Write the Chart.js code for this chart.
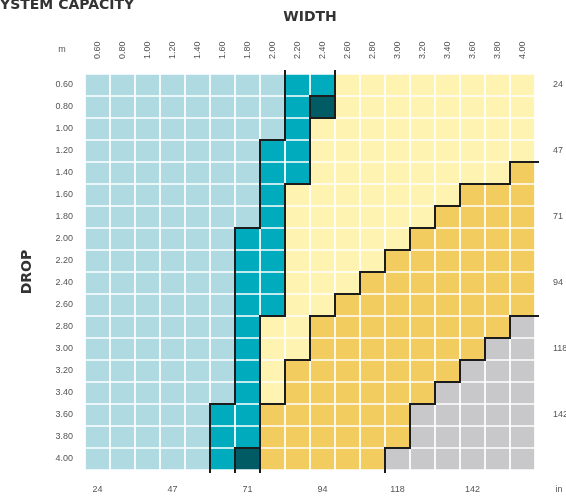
<!DOCTYPE html>
<html>
<head>
<meta charset="utf-8">
<title>System capacity</title>
<script src="https://cdn.jsdelivr.net/npm/chart.js@4.4.1/dist/chart.umd.min.js"></script>
<style>
  html, body { margin: 0; padding: 0; background: #fff; }
  canvas { display: block; }
</style>
</head>
<body>
<canvas id="capacity" width="566" height="496"></canvas>
<script>
// widths along the top, drops down the side (metres)
const widths = ['0.60', '0.80', '1.00', '1.20', '1.40', '1.60', '1.80', '2.00', '2.20',
  '2.40', '2.60', '2.80', '3.00', '3.20', '3.40', '3.60', '3.80', '4.00'];
const drops = ['0.60', '0.80', '1.00', '1.20', '1.40', '1.60', '1.80', '2.00', '2.20',
  '2.40', '2.60', '2.80', '3.00', '3.20', '3.40', '3.60', '3.80', '4.00'];

// inch equivalents, only every third one is printed
const widthInches = ['24', '', '', '47', '', '', '71', '', '', '94', '', '', '118', '', '', '142', '', ''];
const dropInches = ['24', '', '', '47', '', '', '71', '', '', '94', '', '', '118', '', '', '142', '', ''];

// one string per drop, one letter per width
// L light blue, T teal, D dark teal, Y light yellow, O yellow, G grey
const zones = [
  'LLLLLLLLTTYYYYYYYY',
  'LLLLLLLLTDYYYYYYYY',
  'LLLLLLLLTYYYYYYYYY',
  'LLLLLLLTTYYYYYYYYY',
  'LLLLLLLTTYYYYYYYYO',
  'LLLLLLLTYYYYYYYOOO',
  'LLLLLLLTYYYYYYOOOO',
  'LLLLLLTTYYYYYOOOOO',
  'LLLLLLTTYYYYOOOOOO',
  'LLLLLLTTYYYOOOOOOO',
  'LLLLLLTTYYOOOOOOOO',
  'LLLLLLTYYOOOOOOOOG',
  'LLLLLLTYYOOOOOOOGG',
  'LLLLLLTYOOOOOOOGGG',
  'LLLLLLTYOOOOOOGGGG',
  'LLLLLTTOOOOOOGGGGG',
  'LLLLLTTOOOOOOGGGGG',
  'LLLLLTDOOOOOGGGGGG'
];

const zoneColors = {
  L: '#afdae2',
  T: '#00abbd',
  D: '#005b65',
  Y: '#fef3b0',
  O: '#f2cc5f',
  G: '#c8c8ca'
};

const tickFont = { family: "'Liberation Sans', Arial, sans-serif", size: 9 };
const titleFont = { family: "'DejaVu Sans', sans-serif", size: 14, weight: 'bold' };
const tickColor = '#555';
const titleColor = '#333';
const noGrid = { display: false, drawTicks: false };

// black outline wherever two neighbouring cells are in different zones
const zoneLines = {
  id: 'zoneLines',
  afterDatasetsDraw(chart) {
    const xs = chart.scales.x, ys = chart.scales.y;
    const ctx = chart.ctx;
    const last = zones.length - 1;
    ctx.save();
    ctx.strokeStyle = '#1c1c1c';
    ctx.lineWidth = 2;
    ctx.lineCap = 'square';
    ctx.beginPath();
    zones.forEach((row, r) => {
      for (let c = 0; c < row.length; c++) {
        if (c < row.length - 1 && row[c] !== row[c + 1]) {
          const x = xs.getPixelForValue(c + 0.5);
          let y0 = ys.getPixelForValue(r - 0.5);
          let y1 = ys.getPixelForValue(r + 0.5);
          if (r === 0) y0 -= 3;
          if (r === last) y1 += 2;
          ctx.moveTo(x, y0);
          ctx.lineTo(x, y1);
        }
        if (r < last && row[c] !== zones[r + 1][c]) {
          const y = ys.getPixelForValue(r + 0.5);
          const x0 = xs.getPixelForValue(c - 0.5);
          let x1 = xs.getPixelForValue(c + 0.5);
          if (c === row.length - 1) x1 += 3;
          ctx.moveTo(x0, y);
          ctx.lineTo(x1, y);
        }
      }
    });
    ctx.stroke();
    ctx.restore();
  }
};

// heading and unit marks that sit outside the axes
const extraText = {
  id: 'extraText',
  afterDraw(chart) {
    const ctx = chart.ctx;
    const area = chart.chartArea;
    ctx.save();
    ctx.font = 'bold 14px "DejaVu Sans", sans-serif';
    ctx.fillStyle = titleColor;
    ctx.textBaseline = 'alphabetic';
    ctx.textAlign = 'left';
    ctx.fillText('SYSTEM CAPACITY', -ctx.measureText('S').width, 8.5);

    ctx.font = "9px 'Liberation Sans', Arial, sans-serif";
    ctx.fillStyle = tickColor;
    ctx.textAlign = 'center';
    ctx.textBaseline = 'middle';
    ctx.fillText('m', area.left - 23, 50);
    ctx.fillText('in', area.right + 24, area.bottom + 20);
    ctx.restore();
  }
};

const datasets = drops.map((d, r) => ({
  label: d,
  data: widths.map(() => [r - 0.5, r + 0.5]),
  backgroundColor: zones[r].split('').map(k => zoneColors[k]),
  borderColor: '#ffffff',
  borderWidth: 1.2,
  borderSkipped: false,
  grouped: false,
  barPercentage: 1,
  categoryPercentage: 1
}));

const rowTicks = scale => { scale.ticks = drops.map((d, i) => ({ value: i })); };

new Chart(document.getElementById('capacity'), {
  type: 'bar',
  data: { labels: widths, datasets },
  options: {
    responsive: false,
    animation: false,
    events: [],
    layout: { padding: 0 },
    plugins: { legend: { display: false }, tooltip: { enabled: false } },
    scales: {
      x: {
        type: 'category',
        position: 'top',
        offset: true,
        grid: noGrid,
        border: { display: false },
        ticks: { autoSkip: false, minRotation: 90, maxRotation: 90, padding: 15, labelOffset: 10.8,
          font: tickFont, color: tickColor },
        title: { display: true, text: 'WIDTH', font: titleFont, color: titleColor, padding: { top: 8.6, bottom: 0 } },
        afterFit: s => { s.height = 74; }
      },
      x2: {
        type: 'category',
        labels: widths,
        position: 'bottom',
        offset: true,
        grid: noGrid,
        border: { display: false },
        ticks: { autoSkip: false, maxRotation: 0, padding: 14.6, font: tickFont, color: tickColor,
          callback: (v, i) => widthInches[i] },
        afterFit: s => { s.height = 26; }
      },
      y: {
        type: 'linear',
        position: 'left',
        min: -0.5,
        max: 17.5,
        reverse: true,
        grid: noGrid,
        border: { display: false },
        afterBuildTicks: rowTicks,
        ticks: { padding: 12, font: tickFont, color: tickColor, callback: v => drops[v] },
        title: { display: true, text: 'DROP', font: titleFont, color: titleColor, padding: { top: 18.6, bottom: 0 } },
        afterFit: s => { s.width = 85; }
      },
      y2: {
        type: 'linear',
        position: 'right',
        min: -0.5,
        max: 17.5,
        reverse: true,
        grid: noGrid,
        border: { display: false },
        afterBuildTicks: rowTicks,
        ticks: { padding: 18, font: tickFont, color: tickColor, callback: v => dropInches[v] },
        afterFit: s => { s.width = 31; }
      }
    }
  },
  plugins: [zoneLines, extraText]
});
</script>
</body>
</html>
